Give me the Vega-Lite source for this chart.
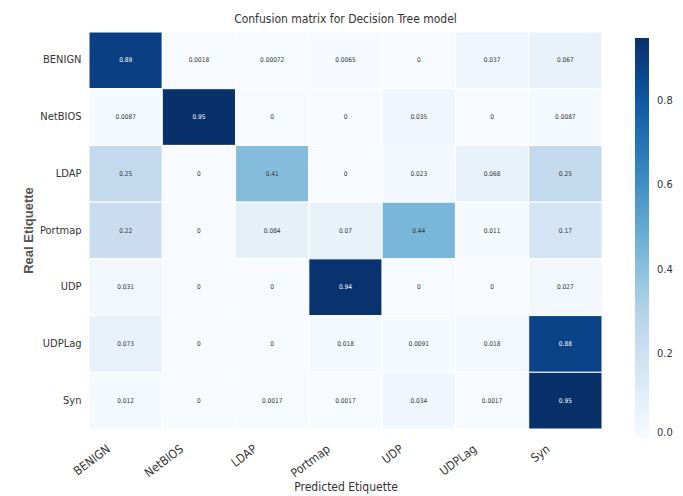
{
  "$schema": "https://vega.github.io/schema/vega-lite/v6.json",
  "autosize": {"type": "none"},
  "width": 513,
  "height": 397,
  "padding": {"left": 89, "top": 32, "right": 81, "bottom": 67},
  "background": "white",
  "title": {"text": "Confusion matrix for Decision Tree model", "fontSize": 12, "fontWeight": "normal", "font": "DejaVu Sans Condensed, Liberation Sans, sans-serif", "color": "#333333", "offset": 6},
  "config": {"view": {"stroke": null}},
  "data": {"values": [
    {"real": "BENIGN", "pred": "BENIGN", "v": 0.89, "t": "0.89"},
    {"real": "BENIGN", "pred": "NetBIOS", "v": 0.0018, "t": "0.0018"},
    {"real": "BENIGN", "pred": "LDAP", "v": 0.00072, "t": "0.00072"},
    {"real": "BENIGN", "pred": "Portmap", "v": 0.0065, "t": "0.0065"},
    {"real": "BENIGN", "pred": "UDP", "v": 0, "t": "0"},
    {"real": "BENIGN", "pred": "UDPLag", "v": 0.037, "t": "0.037"},
    {"real": "BENIGN", "pred": "Syn", "v": 0.067, "t": "0.067"},
    {"real": "NetBIOS", "pred": "BENIGN", "v": 0.0087, "t": "0.0087"},
    {"real": "NetBIOS", "pred": "NetBIOS", "v": 0.95, "t": "0.95"},
    {"real": "NetBIOS", "pred": "LDAP", "v": 0, "t": "0"},
    {"real": "NetBIOS", "pred": "Portmap", "v": 0, "t": "0"},
    {"real": "NetBIOS", "pred": "UDP", "v": 0.035, "t": "0.035"},
    {"real": "NetBIOS", "pred": "UDPLag", "v": 0, "t": "0"},
    {"real": "NetBIOS", "pred": "Syn", "v": 0.0087, "t": "0.0087"},
    {"real": "LDAP", "pred": "BENIGN", "v": 0.25, "t": "0.25"},
    {"real": "LDAP", "pred": "NetBIOS", "v": 0, "t": "0"},
    {"real": "LDAP", "pred": "LDAP", "v": 0.41, "t": "0.41"},
    {"real": "LDAP", "pred": "Portmap", "v": 0, "t": "0"},
    {"real": "LDAP", "pred": "UDP", "v": 0.023, "t": "0.023"},
    {"real": "LDAP", "pred": "UDPLag", "v": 0.068, "t": "0.068"},
    {"real": "LDAP", "pred": "Syn", "v": 0.25, "t": "0.25"},
    {"real": "Portmap", "pred": "BENIGN", "v": 0.22, "t": "0.22"},
    {"real": "Portmap", "pred": "NetBIOS", "v": 0, "t": "0"},
    {"real": "Portmap", "pred": "LDAP", "v": 0.084, "t": "0.084"},
    {"real": "Portmap", "pred": "Portmap", "v": 0.07, "t": "0.07"},
    {"real": "Portmap", "pred": "UDP", "v": 0.44, "t": "0.44"},
    {"real": "Portmap", "pred": "UDPLag", "v": 0.011, "t": "0.011"},
    {"real": "Portmap", "pred": "Syn", "v": 0.17, "t": "0.17"},
    {"real": "UDP", "pred": "BENIGN", "v": 0.031, "t": "0.031"},
    {"real": "UDP", "pred": "NetBIOS", "v": 0, "t": "0"},
    {"real": "UDP", "pred": "LDAP", "v": 0, "t": "0"},
    {"real": "UDP", "pred": "Portmap", "v": 0.94, "t": "0.94"},
    {"real": "UDP", "pred": "UDP", "v": 0, "t": "0"},
    {"real": "UDP", "pred": "UDPLag", "v": 0, "t": "0"},
    {"real": "UDP", "pred": "Syn", "v": 0.027, "t": "0.027"},
    {"real": "UDPLag", "pred": "BENIGN", "v": 0.073, "t": "0.073"},
    {"real": "UDPLag", "pred": "NetBIOS", "v": 0, "t": "0"},
    {"real": "UDPLag", "pred": "LDAP", "v": 0, "t": "0"},
    {"real": "UDPLag", "pred": "Portmap", "v": 0.018, "t": "0.018"},
    {"real": "UDPLag", "pred": "UDP", "v": 0.0091, "t": "0.0091"},
    {"real": "UDPLag", "pred": "UDPLag", "v": 0.018, "t": "0.018"},
    {"real": "UDPLag", "pred": "Syn", "v": 0.88, "t": "0.88"},
    {"real": "Syn", "pred": "BENIGN", "v": 0.012, "t": "0.012"},
    {"real": "Syn", "pred": "NetBIOS", "v": 0, "t": "0"},
    {"real": "Syn", "pred": "LDAP", "v": 0.0017, "t": "0.0017"},
    {"real": "Syn", "pred": "Portmap", "v": 0.0017, "t": "0.0017"},
    {"real": "Syn", "pred": "UDP", "v": 0.034, "t": "0.034"},
    {"real": "Syn", "pred": "UDPLag", "v": 0.0017, "t": "0.0017"},
    {"real": "Syn", "pred": "Syn", "v": 0.95, "t": "0.95"}
  ]},
  "encoding": {
    "x": {"field": "pred", "type": "nominal", "sort": ["BENIGN", "NetBIOS", "LDAP", "Portmap", "UDP", "UDPLag", "Syn"],
      "scale": {"paddingInner": 0, "paddingOuter": 0},
      "axis": {"title": "Predicted Etiquette", "titleFont": "DejaVu Sans Condensed, Liberation Sans, sans-serif", "titleFontSize": 12, "titleFontWeight": "normal", "titleColor": "#333333", "titleY": 61, "titleBaseline": "alphabetic",
        "labelAngle": -37, "labelOffset": -20, "labelPadding": 14, "labelFont": "DejaVu Sans Condensed, Liberation Sans, sans-serif", "labelFontSize": 12, "labelColor": "#333333",
        "domain": false, "ticks": false}},
    "y": {"field": "real", "type": "nominal", "sort": ["BENIGN", "NetBIOS", "LDAP", "Portmap", "UDP", "UDPLag", "Syn"],
      "scale": {"paddingInner": 0, "paddingOuter": 0},
      "axis": {"title": "Real Etiquette", "titleFont": "Liberation Sans", "titleFontSize": 13, "titleFontWeight": "bold", "titleColor": "#555555", "titleX": -61, "titleY": 198, "titleAngle": -90, "titleBaseline": "middle", "titleAlign": "center",
        "labelFont": "DejaVu Sans Condensed, Liberation Sans, sans-serif", "labelFontSize": 11, "labelColor": "#333333", "labelPadding": 8,
        "domain": false, "ticks": false}}
  },
  "layer": [
    {"mark": {"type": "rect", "stroke": "white", "strokeWidth": 1},
     "encoding": {"color": {"field": "v", "type": "quantitative",
       "scale": {"domain": [0, 0.95], "range": ["#f7fbff", "#deebf7", "#c6dbef", "#9ecae1", "#6baed6", "#4292c6", "#2171b5", "#08519c", "#08306b"]},
       "legend": {"title": null, "orient": "none", "legendX": 546, "legendY": 6, "gradientLength": 400, "gradientThickness": 14, "values": [0, 0.2, 0.4, 0.6, 0.8], "format": ".1f",
         "labelFont": "DejaVu Sans Condensed, Liberation Sans, sans-serif", "labelFontSize": 11, "labelColor": "#333333", "labelOffset": 8, "gradientStrokeWidth": 0}}}},
    {"mark": {"type": "text", "fontSize": 6.5, "font": "DejaVu Sans Condensed, Liberation Sans, sans-serif"},
     "encoding": {"text": {"field": "t"},
       "color": {"condition": {"test": "datum.v > 0.5", "value": "white"}, "value": "#333333"}}}
  ]
}
